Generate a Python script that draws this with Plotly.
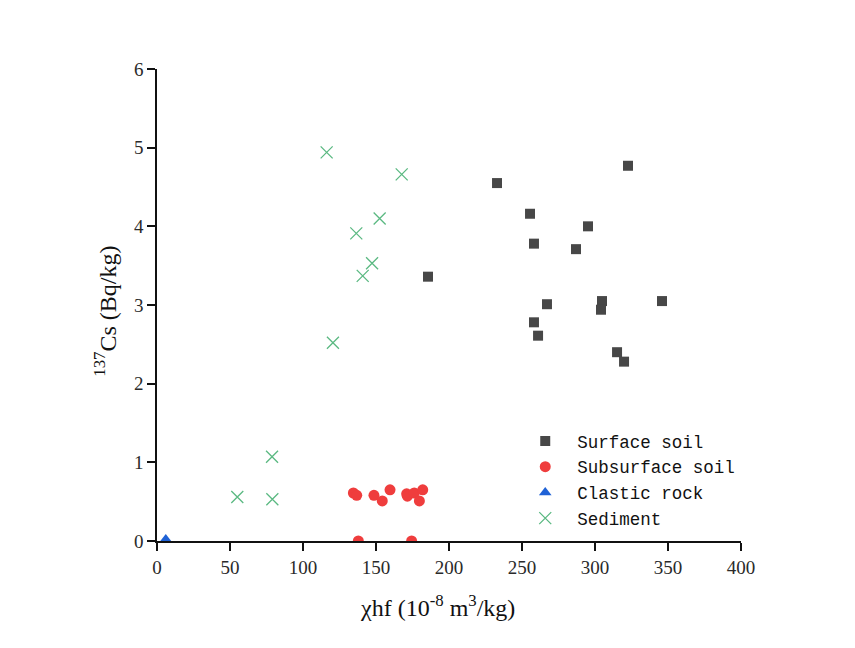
import plotly.graph_objects as go

# χhf (10^-8 m3/kg) and 137Cs (Bq/kg) for each sample group
surface_x = [185.6, 322.6, 232.9, 255.5, 295.2, 258.2, 287.0, 267.1, 304.8, 304.1, 345.9, 258.2, 261.0, 315.1, 319.9]
surface_y = [3.36, 4.77, 4.55, 4.16, 4.00, 3.78, 3.71, 3.01, 3.05, 2.94, 3.05, 2.78, 2.61, 2.40, 2.28]

subsurface_x = [134.5, 136.8, 148.6, 154.3, 159.6, 171.0, 171.5, 176.2, 182.0, 179.7, 137.9, 174.4]
subsurface_y = [0.61, 0.58, 0.58, 0.51, 0.65, 0.60, 0.57, 0.61, 0.65, 0.51, 0.0, 0.0]

clastic_x = [6.0]
clastic_y = [0.02]

sediment_x = [116.2, 167.6, 152.5, 136.5, 147.3, 140.9, 120.5, 78.8, 55.0, 79.0]
sediment_y = [4.94, 4.66, 4.10, 3.91, 3.53, 3.37, 2.52, 1.07, 0.56, 0.53]

x_ticks = [0, 50, 100, 150, 200, 250, 300, 350, 400]
y_ticks = [0, 1, 2, 3, 4, 5, 6]

x_title = "χhf (10<sup>-8</sup> m<sup>3</sup>/kg)"
y_title = "<sup>137</sup>Cs (Bq/kg)"

serif = "Liberation Serif, Times New Roman, serif"

fig = go.Figure()
fig.add_trace(go.Scatter(
    x=surface_x, y=surface_y, mode="markers", name="Surface soil",
    marker=dict(symbol="square", size=10, color="#474747"),
))
fig.add_trace(go.Scatter(
    x=subsurface_x, y=subsurface_y, mode="markers", name="Subsurface soil",
    marker=dict(symbol="circle", size=11, color="#EF3D3D"),
))
fig.add_trace(go.Scatter(
    x=clastic_x, y=clastic_y, mode="markers", name="Clastic rock",
    marker=dict(symbol="triangle-up", size=11, color="#1F62D6"),
))
fig.add_trace(go.Scatter(
    x=sediment_x, y=sediment_y, mode="markers", name="Sediment",
    marker=dict(symbol="x-thin", size=12, color="#5BB982",
                line=dict(width=1.3, color="#5BB982")),
))

axis_common = dict(
    showgrid=False, zeroline=False, showline=True, linecolor="#111",
    linewidth=1.5, ticks="outside", ticklen=8, tickwidth=1.5, tickcolor="#111",
    tickfont=dict(family=serif, size=19, color="#2a2a2a"),
)

fig.update_xaxes(range=[0, 400], tickvals=x_ticks,
                 ticktext=[str(v) for v in x_ticks], **axis_common)
fig.update_yaxes(range=[0, 6], tickvals=y_ticks,
                 ticktext=[str(v) for v in y_ticks], **axis_common)

# axis titles placed as paper-anchored annotations
fig.add_annotation(
    text=x_title, xref="paper", yref="paper", x=0.4795, y=-0.138,
    xanchor="center", yanchor="middle", showarrow=False,
    font=dict(family=serif, size=24, color="#111"),
)
fig.add_annotation(
    text=y_title, xref="paper", yref="paper", x=-0.088, y=0.487,
    xanchor="center", yanchor="middle", showarrow=False, textangle=-90,
    font=dict(family=serif, size=24, color="#111"),
)

fig.update_layout(
    width=855, height=648,
    margin=dict(l=157, r=114, t=69, b=107),
    paper_bgcolor="white", plot_bgcolor="white",
    showlegend=True,
    legend=dict(
        x=0.61, y=0.25, xanchor="left", yanchor="top",
        itemwidth=54, bgcolor="rgba(0,0,0,0)",
        font=dict(family="Liberation Mono, DejaVu Sans Mono, monospace", size=17.5, color="#111"),
    ),
)

fig.write_html("out.html")
